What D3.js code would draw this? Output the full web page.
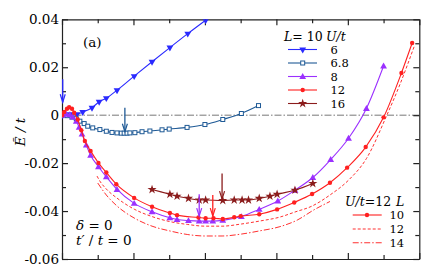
<!DOCTYPE html>
<html><head><meta charset="utf-8">
<script src="https://cdn.jsdelivr.net/npm/d3@7"></script>
<style>body{margin:0;background:#fff}svg{display:block}</style>
</head><body><div id="c"></div>
<script>
// ---- data ----
const xU6   = [0.01,0.11,0.21,0.29,0.42,0.52,0.62,0.77,1.01,1.26,1.51,1.76,2.01];
const yU6   = [0,0.0004,0.0004,0.0013,0.0031,0.0056,0.0071,0.0104,0.0163,0.0223,0.0282,0.034,0.0396];
const xU68  = [0,0.07,0.14,0.2,0.25,0.31,0.36,0.43,0.53,0.62,0.70,0.77,0.83,0.87,0.91,0.95,1.02,1.12,1.23,1.40,1.50,1.75,2.00,2.25,2.51,2.75];
const yU68  = [0,-0.0002,-0.0008,-0.0015,-0.0025,-0.0035,-0.0046,-0.0053,-0.006,-0.0067,-0.0072,-0.0074,-0.0075,-0.0075,-0.0075,-0.0074,-0.0073,-0.0069,-0.0066,-0.0061,-0.0058,-0.0051,-0.0039,-0.0018,0.0007,0.004];
const xU8   = [0,0.06,0.11,0.15,0.20,0.24,0.28,0.34,0.40,0.51,0.62,0.77,1.01,1.26,1.51,1.61,1.77,1.92,2.01,2.11,2.25,2.51,2.76,3.02,3.26,3.51,3.76,4.01,4.26,4.50];
const yU8   = [0,0.0004,0.0002,-0.0008,-0.0025,-0.005,-0.0079,-0.0125,-0.0167,-0.0215,-0.0257,-0.031,-0.0368,-0.0403,-0.0428,-0.0435,-0.044,-0.0442,-0.0442,-0.0442,-0.0439,-0.0423,-0.0393,-0.0358,-0.0313,-0.026,-0.0185,-0.0096,0.0028,0.0205];
const xU12  = [0,0.03,0.07,0.10,0.14,0.17,0.22,0.27,0.32,0.40,0.51,0.62,0.76,1.01,1.26,1.51,1.61,1.91,2.01,2.12,2.25,2.41,2.50,2.76,3.01,3.25,3.50,3.75,3.99,4.25,4.50,4.75,4.90];
const yU12  = [0,0.0013,0.0027,0.0033,0.0027,0.001,-0.0018,-0.0063,-0.0108,-0.0149,-0.0199,-0.0239,-0.0288,-0.0345,-0.0382,-0.0408,-0.0417,-0.0427,-0.043,-0.043,-0.0433,-0.0426,-0.0421,-0.0413,-0.0393,-0.0364,-0.0329,-0.0282,-0.0219,-0.0133,-0.0009,0.0176,0.0301];
const xU16  = [1.26,1.51,1.61,1.77,1.92,2.01,2.25,2.41,2.52,2.61,2.76,2.91,3.01,3.26,3.51];
const yU16  = [-0.031,-0.033,-0.0338,-0.0347,-0.0354,-0.0354,-0.0356,-0.0354,-0.0354,-0.0354,-0.0347,-0.0338,-0.033,-0.0313,-0.0285];
const xL12  = [0.49,0.53,0.62,0.77,1.01,1.26,1.51,1.76,2.00,2.24,2.51,2.76,3.05,3.26,3.50,3.75,4.01,4.26,4.54,4.73,4.93];
const yL12  = [-0.0254,-0.0275,-0.0308,-0.0346,-0.0392,-0.0423,-0.0444,-0.0456,-0.0463,-0.0463,-0.0454,-0.0442,-0.0425,-0.0404,-0.0379,-0.0333,-0.0271,-0.0181,-0.0004,0.0129,0.0288];
const xL14  = [0.50,0.62,0.77,1.01,1.26,1.51,1.76,2.00,2.24,2.51,2.76,3.05,3.29,3.52,3.75];
const yL14  = [-0.0283,-0.0333,-0.0379,-0.0429,-0.0463,-0.0483,-0.0498,-0.0504,-0.0504,-0.0496,-0.0483,-0.0465,-0.0438,-0.0396,-0.036];
// arrows: x, yTop, yBottom
const arrowX   = [0.01, 0.88, 1.92, 2.11, 2.24];
const arrowY0  = [0.015, 0.0031, -0.033, -0.0333, -0.0243];
const arrowY1  = [0.0054, -0.0069, -0.0421, -0.0421, -0.035];
const arrowCol = ["#2a2aff","#1f5a96","#9b30ff","#ff2020","#8b1c1c"];
const yTickVals = [-0.06,-0.04,-0.02,0,0.02,0.04];
const yTickLabels = ["-0.06","-0.04","-0.02","0","0.02","0.04"];
const legendU = ["6","6.8","8","12","16"];
const legendL = ["10","12","14"];

// ---- layout ----
const FONT="'DejaVu Serif','Liberation Serif','Noto Serif','Times New Roman',serif";
const FS=13.5, LFS=12.5, EFS=11.5;
const W=436,H=279, L=62, R=419.3, T=19.3, B=259;
const svg=d3.select("#c").append("svg").attr("width",W).attr("height",H)
  .attr("font-family",FONT).style("font-family",FONT);
const x=d3.scaleLinear().domain([0,5]).range([L,R]);
const y=d3.scaleLinear().domain([-0.06,0.04]).range([B,T]);

// zero line
svg.append("line").attr("x1",L).attr("x2",R).attr("y1",y(0)).attr("y2",y(0))
  .attr("stroke","#777").attr("stroke-width",1).attr("stroke-dasharray","7,2,1.5,2");

// axes
const minorX=d3.range(0,5.01,0.5), minorY=d3.range(-0.06,0.0401,0.01);
function tickLen(v,step){return Math.abs(v/step-Math.round(v/step))<1e-6?6:4;}
const axB=d3.axisBottom(x).tickValues(minorX).tickFormat("").tickSizeOuter(0).tickSizeInner(-4);
const axT=d3.axisTop(x).tickValues(minorX).tickFormat("").tickSizeOuter(0).tickSizeInner(-4);
const axL=d3.axisLeft(y).tickValues(minorY).tickFormat("").tickSizeOuter(0).tickSizeInner(-4);
const axR=d3.axisRight(y).tickValues(minorY).tickFormat("").tickSizeOuter(0).tickSizeInner(-4);
const gB=svg.append("g").attr("transform",`translate(0,${B})`).call(axB);
const gT=svg.append("g").attr("transform",`translate(0,${T})`).call(axT);
const gL=svg.append("g").attr("transform",`translate(${L},0)`).call(axL);
const gR=svg.append("g").attr("transform",`translate(${R},0)`).call(axR);
gB.selectAll(".tick line").attr("y2",d=>-tickLen(d,1));
gT.selectAll(".tick line").attr("y2",d=>tickLen(d,1));
gL.selectAll(".tick line").attr("x2",d=>tickLen(d,0.02));
gR.selectAll(".tick line").attr("x2",d=>-tickLen(d,0.02));
[gB,gT,gL,gR].forEach(g=>{g.selectAll("line,path").attr("stroke","#222").attr("stroke-width",1.2);});
// y labels
svg.append("g").selectAll("text").data(yTickVals).join("text")
  .attr("x",L-3).attr("y",d=>y(d)+5).attr("text-anchor","end")
  .attr("font-size",FS).text((d,i)=>yTickLabels[i]);
// y title
svg.append("text").attr("transform",`translate(25,132) rotate(-90)`).attr("text-anchor","middle")
  .attr("font-size",FS).attr("font-style","italic").text("\u1EBC / t");

// series
const line=d3.line().x(d=>x(d[0])).y(d=>y(d[1])).curve(d3.curveMonotoneX);
const zip=(a,b)=>a.map((v,i)=>[v,b[i]]);
svg.append("clipPath").attr("id","cp").append("rect").attr("x",L).attr("y",T).attr("width",R-L).attr("height",B-T);
const plot=svg.append("g").attr("clip-path","url(#cp)");
const series=[
 {d:zip(xU6,yU6),c:"#2a2aff",sym:"tdown"},
 {d:zip(xU68,yU68),c:"#1f5a96",sym:"sq"},
 {d:zip(xU8,yU8),c:"#9b30ff",sym:"tup"},
 {d:zip(xU12,yU12),c:"#ff2020",sym:"circ"},
 {d:zip(xU16,yU16),c:"#8b1c1c",sym:"star"},
];
plot.append("path").datum(zip(xL12,yL12)).attr("d",line).attr("fill","none").attr("stroke","#ff3030").attr("stroke-width",1).attr("stroke-dasharray","3,2");
plot.append("path").datum(zip(xL14,yL14)).attr("d",line).attr("fill","none").attr("stroke","#ff3030").attr("stroke-width",1).attr("stroke-dasharray","6,2,1.5,2");
function drawSym(g,type,c,px,py){
  if(type==="tdown"){g.append("path").attr("d",d3.symbol(d3.symbolTriangle,20)()).attr("transform",`translate(${px},${py}) rotate(180)`).attr("fill",c);}
  else if(type==="tup"){g.append("path").attr("d",d3.symbol(d3.symbolTriangle,20)()).attr("transform",`translate(${px},${py+0.5})`).attr("fill",c);}
  else if(type==="sq"){g.append("rect").attr("x",px-2).attr("y",py-2).attr("width",4).attr("height",4).attr("fill","#fff").attr("stroke",c).attr("stroke-width",1);}
  else if(type==="circ"){g.append("circle").attr("cx",px).attr("cy",py).attr("r",2.2).attr("fill",c);}
  else if(type==="star"){g.append("path").attr("d",d3.symbol(d3.symbolStar,26)()).attr("transform",`translate(${px},${py})`).attr("fill",c);}
}
series.forEach(s=>{
  plot.append("path").datum(s.d).attr("d",line).attr("fill","none").attr("stroke",s.c).attr("stroke-width",1.1);
  const g=plot.append("g");
  s.d.forEach(p=>drawSym(g,s.sym,s.c,x(p[0]),y(p[1])));
});
// arrows
arrowX.forEach((ax,i)=>{
  const px=x(ax),y0=y(arrowY0[i]),y1=y(arrowY1[i]),c=arrowCol[i];
  svg.append("line").attr("x1",px).attr("x2",px).attr("y1",y0).attr("y2",y1).attr("stroke",c).attr("stroke-width",1.3);
  svg.append("path").attr("d",`M${px-2.5},${y1-8}L${px},${y1}L${px+2.5},${y1-8}`).attr("fill","none").attr("stroke",c).attr("stroke-width",1.2);
});

// labels
svg.append("text").attr("x",83).attr("y",47).attr("font-size",FS).text("(a)");
const t1=svg.append("text").attr("x",76).attr("y",230).attr("font-size",FS).attr("font-style","italic");
t1.append("tspan").text("\u03b4");t1.append("tspan").attr("font-style","normal").text(" = 0");
const t2=svg.append("text").attr("x",76).attr("y",245).attr("font-size",FS).attr("font-style","italic");
t2.append("tspan").text("t\u2032");t2.append("tspan").attr("font-style","normal").text(" / ");t2.append("tspan").text("t");t2.append("tspan").attr("font-style","normal").text(" = 0");

// top legend
const lh=svg.append("text").attr("x",284).attr("y",40.5).attr("font-size",LFS);
lh.append("tspan").attr("font-style","italic").text("L");lh.append("tspan").text("= 10");
lh.append("tspan").attr("x",326).attr("font-style","italic").text("U/t");
const legY=[49.5,63,76.5,90,103.5];
series.forEach((s,i)=>{
  svg.append("line").attr("x1",288).attr("x2",317).attr("y1",legY[i]).attr("y2",legY[i]).attr("stroke",s.c).attr("stroke-width",1.1);
  drawSym(svg,s.sym,s.c,302.7,legY[i]);
  svg.append("text").attr("x",330.5).attr("y",legY[i]+4.2).attr("font-size",EFS).text(legendU[i]);
});
// bottom legend
const bh=svg.append("text").attr("x",345).attr("y",206).attr("font-size",LFS);
bh.append("tspan").attr("font-style","italic").text("U/t");bh.append("tspan").text("=12");
bh.append("tspan").attr("x",396).attr("font-style","italic").text("L");
const bY=[215,229,242.7], bDash=[null,"3,2","6,2,1.5,2"];
bY.forEach((yy,i)=>{
  const ln=svg.append("line").attr("x1",352.7).attr("x2",381.7).attr("y1",yy).attr("y2",yy).attr("stroke",i===0?"#ff2020":"#ff3030").attr("stroke-width",1.1);
  if(bDash[i]) ln.attr("stroke-dasharray",bDash[i]);
  if(i===0) drawSym(svg,"circ","#ff2020",367,yy);
  svg.append("text").attr("x",389.5).attr("y",yy+4.2).attr("font-size",EFS).text(legendL[i]);
});
</script></body></html>
